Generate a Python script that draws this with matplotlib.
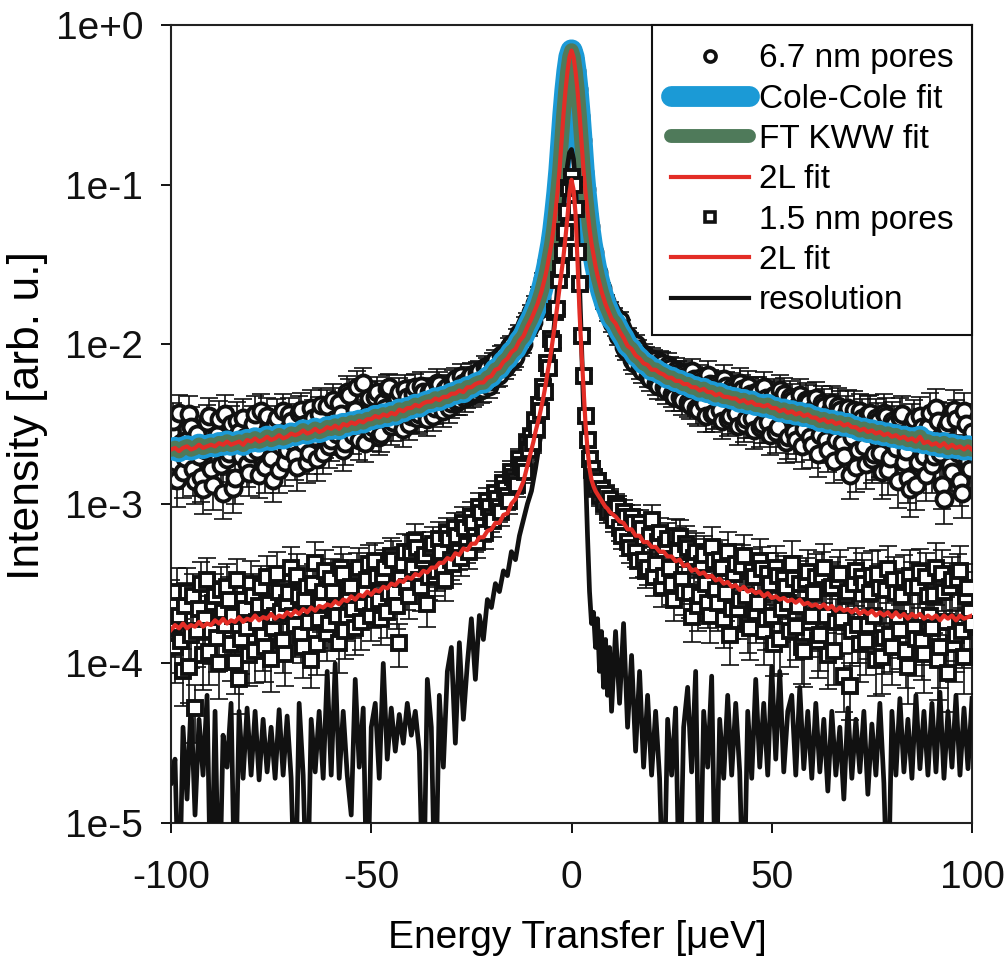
import numpy as np
import matplotlib
matplotlib.use('Agg')
import matplotlib.pyplot as plt
from matplotlib.lines import Line2D

plt.rcParams['font.family'] = ['Liberation Sans', 'DejaVu Sans']

# ---------------- energy grids (micro-eV) ----------------
energy_left = np.arange(-100, -10, 1.0)        # -100 .. -11
energy_centre = np.arange(-10, 10.5, 0.5)      # -10 .. 10
energy_right = np.arange(11, 101, 1.0)         # 11 .. 100
energy_left_half = np.arange(-99.5, -10, 1.0)  # -99.5 .. -10.5
energy_right_half = np.arange(10.5, 100, 1.0)  # 10.5 .. 99.5

# ---------------- 6.7 nm pores: data (log10 intensity) ----------------
pores67_left = [
    -2.55, -2.74, -2.43, -2.80, -2.60, -2.52, -2.86, -2.70, -2.91, -2.49,
    -2.78, -2.62, -2.47, -2.93, -2.72, -2.50, -2.84, -2.55, -2.46, -2.75,
    -2.68, -2.44, -2.82, -2.60, -2.45, -2.71, -2.50, -2.79, -2.42, -2.66,
    -2.48, -2.70, -2.43, -2.62, -2.74, -2.40, -2.58, -2.44, -2.68, -2.39,
    -2.60, -2.47, -2.37, -2.66, -2.30, -2.52, -2.41, -2.60, -2.24, -2.45,
    -2.55, -2.33, -2.58, -2.36, -2.28, -2.51, -2.38, -2.30, -2.53, -2.33,
    -2.45, -2.27, -2.44, -2.30, -2.47, -2.29, -2.40, -2.25, -2.42, -2.27,
    -2.37, -2.22, -2.35, -2.24, -2.32, -2.19, -2.30, -2.17, -2.28, -2.15,
    -2.23, -2.10, -2.19, -2.06, -2.13, -2.00, -2.08, -1.93, -2.00, -1.85,
]
pores67_left_half = [
    -2.48, -2.85, -2.62, -2.71, -2.44, -2.78, -2.56, -2.83, -2.66, -2.45,
    -2.88, -2.57, -2.76, -2.44, -2.68, -2.90, -2.48, -2.70, -2.58, -2.81,
    -2.50, -2.66, -2.42, -2.77, -2.55, -2.85, -2.46, -2.64, -2.74, -2.44,
    -2.61, -2.77, -2.41, -2.50, -2.68, -2.46, -2.72, -2.38, -2.58, -2.64,
    -2.35, -2.56, -2.44, -2.62, -2.32, -2.57, -2.27, -2.50, -2.62, -2.34,
    -2.52, -2.30, -2.56, -2.40, -2.27, -2.49, -2.34, -2.46, -2.28, -2.50,
    -2.31, -2.46, -2.26, -2.42, -2.30, -2.45, -2.24, -2.38, -2.28, -2.40,
    -2.24, -2.36, -2.20, -2.34, -2.21, -2.31, -2.18, -2.29, -2.14, -2.26,
    -2.12, -2.20, -2.07, -2.15, -2.02, -2.10, -1.96, -2.02, -1.88, -1.90,
]
pores67_centre = [
    -1.80, -1.86, -1.74, -1.79, -1.68, -1.71, -1.59, -1.60, -1.48, -1.47,
    -1.34, -1.30, -1.14, -1.07, -0.89, -0.74, -0.55, -0.42, -0.28, -0.19,
    -0.16,
    -0.21, -0.29, -0.40, -0.57, -0.72, -0.92, -1.03, -1.19, -1.26, -1.39,
    -1.42, -1.53, -1.55, -1.65, -1.65, -1.74, -1.73, -1.81, -1.78, -1.87,
]
pores67_right = [
    -1.90, -1.85, -2.02, -1.95, -2.10, -2.00, -2.15, -2.06, -2.20, -2.09,
    -2.24, -2.11, -2.27, -2.13, -2.31, -2.16, -2.33, -2.18, -2.36, -2.17,
    -2.40, -2.21, -2.37, -2.19, -2.44, -2.25, -2.41, -2.22, -2.47, -2.27,
    -2.43, -2.24, -2.50, -2.26, -2.46, -2.30, -2.52, -2.27, -2.49, -2.33,
    -2.55, -2.29, -2.31, -2.58, -2.35, -2.60, -2.32, -2.53, -2.36, -2.63,
    -2.34, -2.57, -2.39, -2.66, -2.37, -2.60, -2.41, -2.70, -2.40, -2.58,
    -2.77, -2.42, -2.64, -2.44, -2.72, -2.46, -2.68, -2.43, -2.79, -2.48,
    -2.65, -2.46, -2.74, -2.84, -2.50, -2.88, -2.45, -2.70, -2.52, -2.76,
    -2.40, -2.68, -2.97, -2.49, -2.80, -2.47, -2.86, -2.42, -2.73, -2.55,
]
pores67_right_half = [
    -1.82, -1.95, -1.90, -2.04, -1.98, -2.12, -2.03, -2.17, -2.08, -2.22,
    -2.10, -2.26, -2.12, -2.29, -2.15, -2.33, -2.18, -2.35, -2.20, -2.38,
    -2.22, -2.41, -2.23, -2.45, -2.25, -2.43, -2.27, -2.48, -2.26, -2.45,
    -2.29, -2.51, -2.28, -2.47, -2.31, -2.54, -2.30, -2.50, -2.34, -2.57,
    -2.32, -2.52, -2.36, -2.61, -2.33, -2.55, -2.38, -2.64, -2.35, -2.58,
    -2.40, -2.69, -2.37, -2.60, -2.42, -2.73, -2.39, -2.62, -2.44, -2.82,
    -2.41, -2.66, -2.46, -2.75, -2.43, -2.69, -2.48, -2.80, -2.45, -2.71,
    -2.50, -2.86, -2.44, -2.67, -2.91, -2.47, -2.74, -2.52, -2.82, -2.43,
    -2.70, -2.48, -2.88, -2.52, -2.76, -2.41, -2.68, -2.93, -2.50, -2.78,
]
# error bars, percent of the point value (half-step points share their neighbour's value)
err67_left = [
    30, 32, 29, 31, 30, 33, 28, 31, 30, 29,
    31, 29, 30, 32, 28, 30, 31, 29, 30, 28,
    29, 30, 28, 31, 29, 27, 30, 28, 29, 27,
    28, 29, 27, 28, 26, 29, 27, 28, 26, 27,
    26, 27, 25, 27, 26, 24, 26, 25, 24, 26,
    24, 25, 23, 24, 22, 24, 23, 22, 23, 21,
    22, 21, 22, 20, 21, 20, 21, 19, 20, 19,
    19, 18, 19, 18, 17, 18, 17, 16, 17, 16,
    16, 15, 15, 14, 14, 13, 13, 12, 12, 11,
]
err67_centre = [
    11, 10, 10, 9, 9, 8, 8, 7, 7, 6, 6, 6, 5, 5, 4, 4, 3, 3, 3, 2,
    2,
    2, 3, 3, 3, 4, 4, 5, 5, 6, 6, 6, 7, 7, 8, 8, 9, 9, 10, 10, 11,
]
err67_right = [
    11, 12, 12, 13, 13, 14, 14, 15, 15, 16,
    16, 17, 17, 18, 18, 19, 18, 19, 20, 19,
    20, 21, 20, 21, 22, 21, 22, 23, 22, 23,
    23, 24, 23, 24, 25, 24, 25, 24, 26, 25,
    26, 25, 26, 27, 26, 27, 26, 28, 27, 28,
    27, 28, 29, 28, 29, 28, 30, 29, 30, 29,
    30, 29, 31, 30, 29, 31, 30, 32, 30, 31,
    30, 32, 31, 30, 33, 31, 32, 30, 31, 33,
    31, 32, 30, 33, 31, 32, 30, 31, 33, 32,
]
# fit for 6.7 nm (Cole-Cole, FT KWW and 2L fits coincide on this scale)
fit67_left = [
    -2.66, -2.65, -2.67, -2.65, -2.64, -2.66, -2.65, -2.63, -2.65, -2.64,
    -2.63, -2.64, -2.62, -2.63, -2.61, -2.63, -2.62, -2.61, -2.63, -2.60,
    -2.61, -2.59, -2.61, -2.60, -2.58, -2.60, -2.59, -2.57, -2.59, -2.58,
    -2.56, -2.57, -2.56, -2.54, -2.56, -2.55, -2.53, -2.55, -2.54, -2.52,
    -2.53, -2.51, -2.53, -2.50, -2.51, -2.49, -2.50, -2.48, -2.49, -2.47,
    -2.47, -2.45, -2.46, -2.44, -2.45, -2.43, -2.44, -2.41, -2.42, -2.40,
    -2.40, -2.38, -2.39, -2.37, -2.36, -2.36, -2.34, -2.35, -2.33, -2.33,
    -2.31, -2.31, -2.29, -2.30, -2.27, -2.27, -2.25, -2.24, -2.24, -2.21,
    -2.20, -2.16, -2.15, -2.11, -2.09, -2.05, -2.03, -1.98, -1.95, -1.89,
]
fit67_centre = [
    -1.84, -1.81, -1.78, -1.75, -1.71, -1.67, -1.62, -1.57, -1.51, -1.44,
    -1.37, -1.28, -1.17, -1.05, -0.91, -0.73, -0.56, -0.41, -0.29, -0.20,
    -0.16,
    -0.20, -0.29, -0.41, -0.56, -0.73, -0.91, -1.05, -1.17, -1.28, -1.37,
    -1.44, -1.51, -1.57, -1.62, -1.67, -1.71, -1.75, -1.78, -1.81, -1.84,
]
fit67_right = [
    -1.87, -1.92, -1.96, -2.01, -2.03, -2.07, -2.09, -2.12, -2.13, -2.16,
    -2.16, -2.18, -2.19, -2.21, -2.21, -2.23, -2.23, -2.25, -2.25, -2.27,
    -2.27, -2.29, -2.28, -2.30, -2.30, -2.32, -2.31, -2.33, -2.33, -2.34,
    -2.34, -2.36, -2.35, -2.37, -2.36, -2.38, -2.38, -2.39, -2.38, -2.40,
    -2.40, -2.42, -2.41, -2.43, -2.42, -2.44, -2.43, -2.45, -2.44, -2.46,
    -2.46, -2.48, -2.47, -2.49, -2.48, -2.50, -2.49, -2.51, -2.50, -2.52,
    -2.52, -2.54, -2.53, -2.55, -2.54, -2.56, -2.55, -2.57, -2.56, -2.58,
    -2.57, -2.59, -2.58, -2.60, -2.59, -2.61, -2.58, -2.62, -2.61, -2.63,
    -2.62, -2.64, -2.62, -2.65, -2.63, -2.65, -2.64, -2.66, -2.64, -2.66,
]

# ---------------- 1.5 nm pores: data (log10 intensity) ----------------
pores15_left = [
    -3.62, -3.90, -3.70, -4.05, -3.55, -3.82, -4.28, -3.66, -3.95, -3.48,
    -3.80, -3.58, -4.00, -3.68, -3.52, -3.88, -3.99, -4.10, -3.60, -3.78,
    -3.50, -3.92, -3.64, -3.83, -3.46, -3.97, -3.70, -3.55, -3.86, -3.62,
    -3.40, -3.76, -3.58, -3.90, -3.52, -3.98, -3.37, -3.72, -3.55, -3.81,
    -3.47, -3.66, -3.87, -3.44, -3.70, -3.52, -3.78, -3.40, -3.62, -3.48,
    -3.70, -3.36, -3.60, -3.45, -3.68, -3.33, -3.55, -3.87, -3.38, -3.52,
    -3.30, -3.23, -3.48, -3.35, -3.63, -3.28, -3.45, -3.22, -3.40, -3.18,
    -3.35, -3.15, -3.30, -3.12, -3.26, -3.08, -3.20, -3.02, -3.14, -2.98,
    -3.08, -2.93, -3.02, -2.87, -2.95, -2.80, -2.86, -2.72, -2.77, -2.62,
]
pores15_left_half = [
    -3.75, -3.55, -3.86, -3.64, -4.02, -3.58, -3.80, -3.50, -3.72, -3.93,
    -3.62, -3.84, -3.54, -3.76, -3.60, -3.70, -3.48, -3.85, -3.66, -3.95,
    -3.58, -3.74, -3.52, -3.90, -3.63, -3.78, -3.44, -3.68, -3.94, -3.56,
    -3.70, -3.45, -3.82, -3.60, -3.74, -3.50, -3.88, -3.62, -3.42, -3.75,
    -3.55, -3.70, -3.40, -3.80, -3.58, -3.66, -3.43, -3.74, -3.55, -3.38,
    -3.62, -3.46, -3.72, -3.40, -3.56, -3.35, -3.64, -3.47, -3.30, -3.58,
    -3.40, -3.28, -3.52, -3.32, -3.46, -3.25, -3.42, -3.30, -3.48, -3.22,
    -3.38, -3.20, -3.34, -3.15, -3.30, -3.12, -3.24, -3.06, -3.18, -3.02,
    -3.11, -2.97, -3.05, -2.91, -2.98, -2.83, -2.88, -2.76, -2.80, -2.66,
]
pores15_centre = [
    -2.58, -2.62, -2.48, -2.53, -2.38, -2.42, -2.27, -2.30, -2.12, -2.15,
    -1.97, -1.99, -1.80, -1.78, -1.60, -1.53, -1.42, -1.30, -1.17, -1.02,
    -0.95,
    -1.00, -1.15, -1.42, -1.62, -1.95, -2.20, -2.45, -2.60, -2.72, -2.78,
    -2.83, -2.90, -2.86, -2.95, -2.91, -3.00, -2.94, -3.05, -2.97, -3.04,
]
pores15_right = [
    -3.00, -3.15, -3.05, -3.24, -3.08, -3.30, -3.12, -3.35, -3.40, -3.10,
    -3.38, -3.18, -3.45, -3.22, -3.50, -3.20, -3.21, -3.55, -3.28, -3.71,
    -3.30, -3.58, -3.32, -3.62, -3.27, -3.54, -3.35, -3.72, -3.30, -3.66,
    -3.38, -3.60, -3.33, -3.75, -3.42, -3.68, -3.36, -3.80, -3.44, -3.70,
    -3.40, -3.85, -3.47, -3.62, -3.38, -3.77, -3.50, -3.92, -3.43, -3.70,
    -3.46, -3.82, -3.40, -3.95, -3.52, -3.74, -3.44, -4.08, -3.55, -3.80,
    -3.42, -3.88, -3.50, -3.76, -3.45, -3.98, -3.53, -3.84, -3.41, -3.90,
    -3.56, -3.79, -3.47, -4.02, -3.52, -3.85, -3.43, -3.94, -3.58, -3.78,
    -3.40, -3.90, -3.55, -4.06, -3.48, -3.82, -3.42, -3.96, -3.53, -3.75,
]
pores15_right_half = [
    -3.10, -3.02, -3.20, -3.08, -3.28, -3.12, -3.36, -3.16, -3.42, -3.20,
    -3.46, -3.24, -3.52, -3.26, -3.40, -3.60, -3.30, -3.48, -3.25, -3.56,
    -3.34, -3.64, -3.38, -3.50, -3.70, -3.36, -3.62, -3.40, -3.56, -3.82,
    -3.44, -3.66, -3.39, -3.58, -3.78, -3.46, -3.62, -3.41, -3.72, -3.50,
    -3.88, -3.45, -3.66, -3.52, -3.80, -3.47, -3.64, -3.90, -3.48, -3.74,
    -3.56, -3.86, -3.45, -3.70, -3.53, -3.92, -3.48, -3.72, -3.58, -4.14,
    -3.50, -3.76, -3.46, -3.86, -3.56, -3.70, -3.44, -3.96, -3.54, -3.82,
    -3.48, -3.72, -3.58, -3.92, -3.45, -3.78, -3.52, -3.86, -3.46, -3.70,
    -3.57, -3.98, -3.44, -3.74, -3.52, -3.88, -3.47, -3.80, -3.58, -3.68,
]
err15_left = [
    38, 40, 37, 39, 41, 38, 40, 36, 39, 38,
    37, 39, 40, 36, 38, 41, 37, 39, 38, 36,
    38, 37, 35, 39, 36, 38, 37, 35, 37, 36,
    35, 37, 34, 36, 35, 33, 36, 34, 35, 33,
    34, 32, 35, 33, 31, 34, 32, 33, 31, 32,
    31, 30, 32, 29, 31, 30, 28, 30, 29, 28,
    28, 27, 29, 26, 28, 27, 25, 27, 26, 24,
    25, 24, 23, 25, 22, 23, 21, 22, 21, 20,
    20, 19, 19, 18, 18, 17, 16, 16, 15, 14,
]
err15_centre = [
    14, 13, 13, 12, 12, 11, 11, 10, 10, 9, 9, 8, 8, 7, 7, 6, 6, 5, 5, 4,
    4,
    4, 5, 6, 7, 8, 9, 10, 11, 11, 12, 12, 13, 13, 14, 14, 14, 15, 15, 15, 16,
]
err15_right = [
    16, 17, 18, 18, 19, 20, 21, 22, 22, 23,
    24, 24, 25, 26, 27, 27, 28, 29, 29, 30,
    31, 30, 32, 31, 33, 32, 33, 34, 33, 35,
    34, 35, 36, 35, 37, 36, 37, 38, 36, 38,
    37, 39, 38, 37, 40, 38, 39, 41, 38, 40,
    39, 41, 40, 38, 42, 39, 41, 40, 42, 39,
    40, 42, 41, 39, 43, 40, 42, 41, 39, 42,
    41, 43, 40, 42, 44, 41, 40, 43, 42, 41,
    42, 44, 41, 43, 40, 42, 44, 41, 43, 42,
]
fit15_left = [
    -3.79, -3.76, -3.78, -3.75, -3.78, -3.76, -3.77, -3.74, -3.77, -3.75,
    -3.76, -3.73, -3.75, -3.72, -3.75, -3.73, -3.74, -3.71, -3.74, -3.72,
    -3.73, -3.70, -3.73, -3.71, -3.72, -3.69, -3.72, -3.70, -3.71, -3.68,
    -3.70, -3.67, -3.69, -3.66, -3.68, -3.65, -3.67, -3.64, -3.65, -3.63,
    -3.64, -3.61, -3.63, -3.60, -3.61, -3.58, -3.60, -3.57, -3.58, -3.55,
    -3.57, -3.54, -3.55, -3.52, -3.53, -3.50, -3.51, -3.48, -3.49, -3.46,
    -3.47, -3.44, -3.45, -3.42, -3.43, -3.40, -3.40, -3.37, -3.37, -3.34,
    -3.35, -3.31, -3.32, -3.28, -3.29, -3.25, -3.25, -3.21, -3.21, -3.17,
    -3.16, -3.12, -3.12, -3.07, -3.06, -3.00, -2.97, -2.92, -2.86, -2.76,
]
fit15_centre = [
    -2.66, -2.61, -2.55, -2.50, -2.45, -2.39, -2.33, -2.26, -2.18, -2.11,
    -2.03, -1.94, -1.85, -1.75, -1.65, -1.55, -1.45, -1.33, -1.20, -1.05,
    -0.97,
    -1.03, -1.18, -1.48, -1.80, -2.05, -2.28, -2.50, -2.66, -2.78, -2.85,
    -2.89, -2.92, -2.94, -2.96, -2.98, -3.00, -3.02, -3.03, -3.05, -3.06,
]
fit15_right = [
    -3.08, -3.11, -3.12, -3.16, -3.16, -3.20, -3.20, -3.24, -3.24, -3.27,
    -3.27, -3.30, -3.30, -3.33, -3.33, -3.36, -3.35, -3.39, -3.38, -3.42,
    -3.41, -3.44, -3.43, -3.46, -3.45, -3.48, -3.47, -3.50, -3.49, -3.52,
    -3.51, -3.54, -3.52, -3.55, -3.54, -3.56, -3.55, -3.58, -3.56, -3.59,
    -3.58, -3.60, -3.59, -3.61, -3.60, -3.62, -3.60, -3.63, -3.62, -3.64,
    -3.63, -3.65, -3.63, -3.66, -3.64, -3.67, -3.65, -3.67, -3.66, -3.68,
    -3.66, -3.69, -3.67, -3.69, -3.67, -3.70, -3.68, -3.70, -3.68, -3.71,
    -3.68, -3.71, -3.69, -3.72, -3.69, -3.71, -3.69, -3.72, -3.70, -3.72,
    -3.70, -3.73, -3.70, -3.72, -3.70, -3.73, -3.70, -3.72, -3.71, -3.70,
]

# ---------------- resolution (log10 intensity; below -5 = off scale) ----------------
res_left = [
    -4.75, -4.60, -5.60, -4.40, -4.85, -4.25, -4.95, -4.35, -4.70, -4.20,
    -5.60, -4.30, -5.60, -4.45, -4.65, -4.25, -5.60, -4.30, -4.72, -4.28,
    -4.70, -4.30, -4.73, -4.35, -4.68, -4.40, -4.72, -4.29, -4.70, -4.33,
    -4.72, -5.60, -4.25, -4.70, -5.60, -4.35, -4.68, -4.30, -4.72, -4.05,
    -4.70, -4.00, -4.72, -4.30, -4.70, -4.95, -4.10, -4.65, -4.28, -5.60,
    -4.40, -4.25, -4.72, -4.00, -4.60, -4.28, -4.55, -4.32, -4.50, -4.25,
    -4.45, -4.30, -4.55, -5.60, -4.10, -4.40, -5.60, -4.20, -4.65, -4.05,
    -3.90, -4.50, -3.87, -4.35, -4.00, -3.72, -4.10, -3.70, -3.85, -3.60,
    -3.65, -3.50, -3.55, -3.42, -3.45, -3.30, -3.35, -3.20, -3.10, -3.00,
]
res_centre = [
    -2.92, -2.85, -2.78, -2.70, -2.62, -2.55, -2.46, -2.38, -2.28, -2.18,
    -2.06, -1.93, -1.80, -1.64, -1.48, -1.32, -1.15, -1.00, -0.88, -0.80,
    -0.78,
    -0.84, -1.00, -1.25, -1.62, -2.00, -2.40, -2.80, -3.20, -3.55, -3.75,
    -3.68, -3.90, -3.72, -4.05, -3.80, -4.15, -3.85, -4.20, -3.90, -4.30,
]
res_right = [
    -3.80, -4.25, -3.75, -4.40, -3.95, -4.55, -4.05, -4.65, -4.20, -4.70,
    -4.30, -4.72, -5.60, -4.35, -4.70, -4.28, -5.60, -4.40, -4.15, -4.68,
    -4.05, -5.60, -4.30, -4.65, -4.08, -5.60, -4.35, -4.72, -4.20, -4.70,
    -4.25, -4.68, -5.60, -4.30, -4.72, -4.10, -4.65, -4.25, -4.70, -4.02,
    -4.60, -4.05, -4.68, -4.30, -4.20, -4.70, -4.15, -4.66, -4.30, -4.72,
    -4.25, -4.68, -4.35, -4.80, -4.30, -4.70, -4.40, -4.85, -4.28, -4.72,
    -4.35, -4.68, -4.30, -4.82, -4.38, -4.70, -4.25, -4.75, -5.60, -4.30,
    -4.70, -4.22, -4.68, -4.35, -4.72, -4.20, -4.66, -4.30, -4.70, -4.25,
    -4.68, -4.18, -4.72, -4.30, -4.65, -4.20, -4.70, -4.28, -4.66, -4.22,
]

x_ticks = [-100, -50, 0, 50, 100]
x_tick_labels = ['-100', '-50', '0', '50', '100']
y_ticks = [1e-5, 1e-4, 1e-3, 1e-2, 1e-1, 1e0]
y_tick_labels = ['1e-5', '1e-4', '1e-3', '1e-2', '1e-1', '1e+0']

BLUE = '#1b9ad6'
GREEN = '#4f7a5a'
RED = '#e32d26'
BLACK = '#111111'


def cat(*parts):
    return np.concatenate([np.asarray(p, float) for p in parts])


# curves on the main grid
energy = cat(energy_left, energy_centre, energy_right)
f67 = 10.0 ** cat(fit67_left, fit67_centre, fit67_right)
f15 = 10.0 ** cat(fit15_left, fit15_centre, fit15_right)
res = 10.0 ** cat(res_left, res_centre, res_right)

# data points on main grid + half-step tail points, sorted by energy
e_pts = cat(energy_left, energy_centre, energy_right, energy_left_half, energy_right_half)
order = np.argsort(e_pts)
e_pts = e_pts[order]
y67 = (10.0 ** cat(pores67_left, pores67_centre, pores67_right,
                   pores67_left_half, pores67_right_half))[order]
p67 = cat(err67_left, err67_centre, err67_right, err67_left, err67_right)[order]
y15 = (10.0 ** cat(pores15_left, pores15_centre, pores15_right,
                   pores15_left_half, pores15_right_half))[order]
p15 = cat(err15_left, err15_centre, err15_right, err15_left, err15_right)[order]
e67 = y67 * p67 / 100.0
e15 = y15 * p15 / 100.0

fig = plt.figure(figsize=(10.05, 9.57), dpi=100)
ax = fig.add_axes([171 / 1005, 1 - 823 / 957, (972 - 171) / 1005, (823 - 25) / 957])
ax.set_yscale('log')

# 6.7 nm pores
ax.errorbar(e_pts, y67, yerr=e67, fmt='none', ecolor=BLACK, elinewidth=1.2,
            capsize=6.5, capthick=1.2, zorder=2)
ax.plot(e_pts, y67, linestyle='none', marker='o', ms=11.5, mfc='white',
        mec=BLACK, mew=2.8, zorder=2.1)
ax.plot(energy, f67, color=BLUE, lw=16, solid_capstyle='round',
        solid_joinstyle='round', zorder=3)
ax.plot(energy, f67, color=GREEN, lw=10.5, solid_capstyle='round',
        solid_joinstyle='round', zorder=3.1)
ax.plot(energy, f67, color=RED, lw=3.0, zorder=3.2)

# resolution
ax.plot(energy, res, color=BLACK, lw=3.4, zorder=3.3)

# 1.5 nm pores
ax.errorbar(e_pts, y15, yerr=e15, fmt='none', ecolor=BLACK, elinewidth=1.2,
            capsize=6.5, capthick=1.2, zorder=3.4)
ax.plot(e_pts, y15, linestyle='none', marker='s', ms=9.5, mfc='white',
        mec=BLACK, mew=2.8, zorder=3.5)
ax.plot(energy, f15, color=RED, lw=3.0, zorder=3.6)

ax.set_xlim(-100, 100)
ax.set_ylim(1e-5, 1e0)
ax.set_xticks(x_ticks)
ax.set_xticklabels(x_tick_labels)
ax.set_yticks(y_ticks)
ax.set_yticklabels(y_tick_labels)
ax.minorticks_off()
ax.tick_params(axis='both', direction='out', length=7, width=1.4,
               labelsize=28, colors=BLACK)
ax.tick_params(axis='x', pad=20)
ax.tick_params(axis='y', pad=13)
ax.tick_params(top=False, right=False)
for sp in ax.spines.values():
    sp.set_linewidth(1.5)
    sp.set_color('#222222')

ax.set_xlabel('Energy Transfer [\u03bceV]', fontsize=28)
ax.set_ylabel('Intensity [arb. u.]', fontsize=32)
ax.xaxis.set_label_coords(0.5075, -0.121)
ax.yaxis.set_label_coords(-0.153, 0.51)

handles = [
    Line2D([], [], linestyle='none', marker='o', ms=8, mfc='white', mec=BLACK, mew=2.6),
    Line2D([], [], color=BLUE, lw=15, solid_capstyle='round'),
    Line2D([], [], color=GREEN, lw=10, solid_capstyle='round'),
    Line2D([], [], color=RED, lw=3.0),
    Line2D([], [], linestyle='none', marker='s', ms=7, mfc='white', mec=BLACK, mew=2.6),
    Line2D([], [], color=RED, lw=3.0),
    Line2D([], [], color=BLACK, lw=3.0),
]
labels = ['6.7 nm pores', 'Cole-Cole fit', 'FT KWW fit', '2L fit',
          '1.5 nm pores', '2L fit', 'resolution']
leg = ax.legend(handles, labels, loc='upper right', bbox_to_anchor=(1, 1),
                borderaxespad=0, fontsize=24, frameon=True, fancybox=False,
                framealpha=1, edgecolor=BLACK, handlelength=2.35,
                handletextpad=0.3, labelspacing=0.28, borderpad=0.55)
leg.get_frame().set_linewidth(1.5)
leg.set_zorder(10)

fig.savefig('out.png', dpi=100)
